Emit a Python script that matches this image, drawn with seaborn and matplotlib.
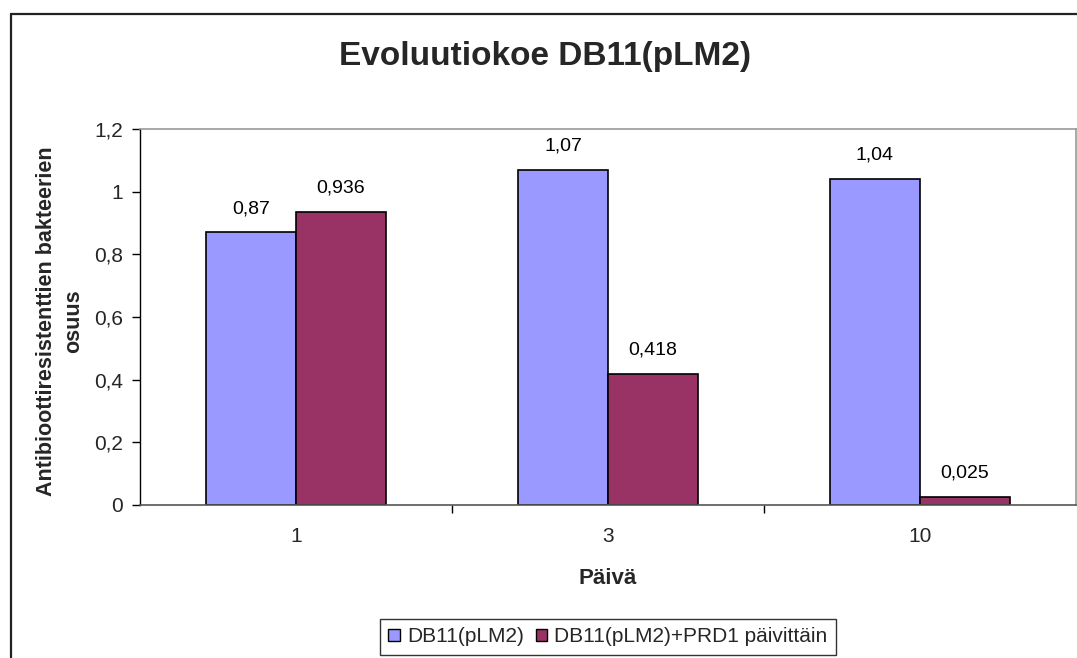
import matplotlib
matplotlib.use("Agg")
import matplotlib.pyplot as plt
import seaborn as sns
import pandas as pd
from matplotlib.lines import Line2D
from matplotlib.patches import Patch

days = ["1", "3", "10"]
series_names = ["DB11(pLM2)", "DB11(pLM2)+PRD1 päivittäin"]
control_values = [0.87, 1.07, 1.04]
phage_values = [0.936, 0.418, 0.025]
y_ticks = [0, 0.2, 0.4, 0.6, 0.8, 1.0, 1.2]
colors = ["#9999FF", "#993366"]

df = pd.DataFrame({
    "Päivä": days * 2,
    "osuus": control_values + phage_values,
    "sarja": [series_names[0]] * 3 + [series_names[1]] * 3,
})

sns.set_theme(style="white")
plt.rcParams["font.family"] = ["Liberation Sans", "DejaVu Sans"]

fig = plt.figure(figsize=(10.77, 6.58), dpi=100)
ax = fig.add_axes([140 / 1077, 1 - 505 / 658, 936 / 1077, 376 / 658])

sns.barplot(data=df, x="Päivä", y="osuus", hue="sarja", order=days,
            hue_order=series_names, palette=colors, width=0.577,
            edgecolor="black", linewidth=1.2, saturation=1, ax=ax,
            legend=False)

def fmt(v):
    return f"{v:g}".replace(".", ",")

for cont, vals in zip(ax.containers, [control_values, phage_values]):
    ax.bar_label(cont, labels=[fmt(v) for v in vals], padding=11,
                 fontsize=14, color="black")

ax.set_xlim(-0.5, 2.5)
ax.set_ylim(0, 1.2)
ax.set_yticks(y_ticks)
ax.set_yticklabels([fmt(v) for v in y_ticks], fontsize=15)
ax.set_xticks(range(3))
ax.set_xticklabels(days, fontsize=15)
ax.set_xticks([0.5, 1.5], minor=True)
ax.tick_params(axis="x", which="major", length=0, pad=16)
ax.tick_params(axis="x", which="minor", length=6, width=1, color="black",
               direction="out", bottom=True)
ax.tick_params(axis="y", length=6, width=1, color="black", direction="out",
               left=True, pad=6)

ax.set_xlabel("")
ax.set_ylabel("")
for side in ["top", "right"]:
    ax.spines[side].set_color("#999999")
    ax.spines[side].set_linewidth(1.2)
ax.spines["left"].set_color("black")
ax.spines["left"].set_linewidth(1)
ax.spines["bottom"].set_color("#555555")
ax.spines["bottom"].set_linewidth(1.2)

fig.text(545 / 1077, 1 - 57 / 658, "Evoluutiokoe DB11(pLM2)",
         ha="center", va="center", fontsize=24, fontweight="bold")
fig.text(608 / 1077, 1 - 578 / 658, "Päivä", ha="center", va="center",
         fontsize=16, fontweight="bold")
fig.text(60 / 1077, 1 - 321 / 658, "Antibioottiresistenttien bakteerien\nosuus",
         ha="center", va="center", rotation=90, fontsize=15.5,
         fontweight="bold", linespacing=1.35)

handles = [Patch(facecolor=c, edgecolor="black", linewidth=1) for c in colors]
leg = fig.legend(handles, series_names, loc="center",
                 bbox_to_anchor=(608 / 1077, 1 - 637 / 658), ncol=2,
                 frameon=True, fancybox=False, edgecolor="black",
                 fontsize=15, handlelength=0.55, handleheight=0.55,
                 handletextpad=0.35, columnspacing=0.55, borderpad=0.4,
                 borderaxespad=0)
leg.get_frame().set_linewidth(1)

# chart area frame (left and top edges)
x0 = 10.5 / 1077
y0 = 1 - 13.5 / 658
fig.add_artist(Line2D([x0, x0], [0, y0], transform=fig.transFigure,
                      color="#222222", linewidth=1.6))
fig.add_artist(Line2D([x0, 1], [y0, y0], transform=fig.transFigure,
                      color="#222222", linewidth=1.6))

fig.savefig("out.png", dpi=100, facecolor="white")
